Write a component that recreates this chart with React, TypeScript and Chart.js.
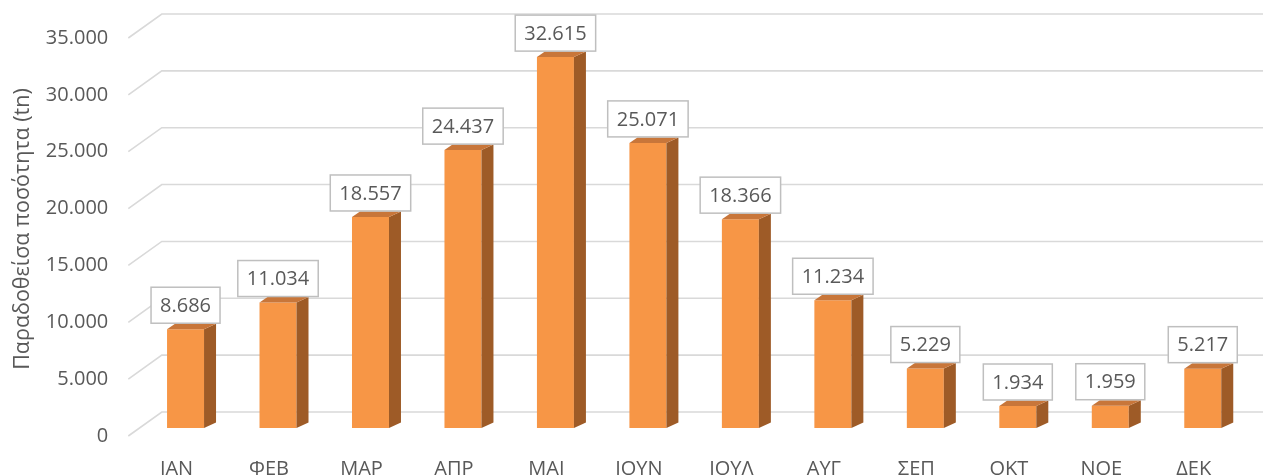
import React, { useEffect, useRef } from "react";
import { Chart, registerables } from "chart.js";

Chart.register(...registerables);

const months = ["ΙΑΝ", "ΦΕΒ", "ΜΑΡ", "ΑΠΡ", "ΜΑΙ", "ΙΟΥΝ", "ΙΟΥΛ", "ΑΥΓ", "ΣΕΠ", "ΟΚΤ", "ΝΟΕ", "ΔΕΚ"];
const quantities = [8686, 11034, 18557, 24437, 32615, 25071, 18366, 11234, 5229, 1934, 1959, 5217];
const yMin = 0;
const yMax = 35000;
const yStep = 5000;
const yTitle = "Παραδοθείσα ποσότητα (tn)";

const FONT = "'Open Sans', 'Noto Sans', sans-serif";
const FSIZE = 20;
const TEXT = "#595959";
const GRID = "#d9d9d9";
const FRONT = "#F79646";
const TOP = "#C8763A";
const SIDE = "#9E5B27";

const fmt = (v: number) => String(Math.round(v)).replace(/\B(?=(\d{3})+(?!\d))/g, ".");

const threeD = {
  id: "threeD",
  beforeDatasetsDraw(chart: any) {
    const ctx = chart.ctx;
    const ys = chart.scales.y;
    const left = chart.chartArea.left;
    ctx.save();
    ctx.strokeStyle = GRID;
    ctx.lineWidth = 1.6;
    ys.ticks.forEach((t: any) => {
      const yb = ys.getPixelForValue(t.value);
      ctx.beginPath();
      ctx.moveTo(left - 11, yb + 8);
      ctx.lineTo(left + 22.5, yb - 16);
      ctx.lineTo(chart.width, yb - 16);
      ctx.stroke();
    });
    ctx.restore();
  },
  afterDatasetsDraw(chart: any) {
    const ctx = chart.ctx;
    const meta = chart.getDatasetMeta(0);
    const dx = 12;
    const dxl = 8;
    const dy = 5.5;
    ctx.save();
    meta.data.forEach((bar: any) => {
      const { x, y, base, width } = bar.getProps(["x", "y", "base", "width"], true);
      const xl = x - width / 2;
      const xr = x + width / 2;
      ctx.fillStyle = SIDE;
      ctx.beginPath();
      ctx.moveTo(xr, y);
      ctx.lineTo(xr + dx, y - dy);
      ctx.lineTo(xr + dx, base - dy);
      ctx.lineTo(xr, base);
      ctx.closePath();
      ctx.fill();
      ctx.fillStyle = TOP;
      ctx.beginPath();
      ctx.moveTo(xl, y);
      ctx.lineTo(xr, y);
      ctx.lineTo(xr + dx, y - dy);
      ctx.lineTo(xl + dxl, y - dy);
      ctx.closePath();
      ctx.fill();
    });
    ctx.font = `${FSIZE}px ${FONT}`;
    ctx.textAlign = "center";
    ctx.textBaseline = "middle";
    meta.data.forEach((bar: any, i: number) => {
      const { x, y } = bar.getProps(["x", "y"], true);
      const label = fmt(quantities[i]);
      const w = ctx.measureText(label).width + 18;
      const h = 36;
      const bottom = y - 6;
      const top = bottom - h;
      ctx.fillStyle = "#ffffff";
      ctx.fillRect(x - w / 2, top, w, h);
      ctx.strokeStyle = "#bfbfbf";
      ctx.lineWidth = 1.5;
      ctx.strokeRect(x - w / 2, top, w, h);
      ctx.fillStyle = TEXT;
      ctx.fillText(label, x, top + h / 2 + 1);
    });
    ctx.restore();
  },
};

export default function App() {
  const ref = useRef<HTMLCanvasElement>(null);
  useEffect(() => {
    if (!ref.current) return;
    const chart = new Chart(ref.current, {
      type: "bar",
      data: {
        labels: months,
        datasets: [
          {
            data: quantities,
            backgroundColor: FRONT,
            borderWidth: 0,
            barPercentage: 0.4,
            categoryPercentage: 1,
          },
        ],
      },
      options: {
        animation: false,
        responsive: true,
        maintainAspectRatio: false,
        layout: { padding: { top: 30, right: 14, left: 0, bottom: 0 } },
        plugins: { legend: { display: false }, tooltip: { enabled: false } },
        scales: {
          x: {
            grid: { display: false, drawTicks: false },
            border: { display: false },
            ticks: {
              color: TEXT,
              font: { family: FONT, size: FSIZE },
              padding: 29,
              labelOffset: -9,
              maxRotation: 0,
            },
            afterFit: (s: any) => {
              s.height = 48;
              s.paddingLeft = 0;
              s.paddingRight = 0;
            },
          },
          y: {
            min: yMin,
            max: yMax,
            grid: { display: false, drawTicks: false },
            border: { display: false },
            ticks: {
              stepSize: yStep,
              color: TEXT,
              font: { family: FONT, size: FSIZE },
              padding: 31,
              labelOffset: 8,
              callback: (v: any) => fmt(Number(v)),
            },
            title: {
              display: true,
              text: yTitle,
              color: TEXT,
              font: { family: FONT, size: 21.5 },
              padding: { top: 10, bottom: 0 },
            },
            afterFit: (s: any) => {
              s.width = 139.3;
              s.paddingTop = 0;
              s.paddingBottom = 0;
            },
          },
        },
      },
      plugins: [threeD],
    });
    return () => chart.destroy();
  }, []);
  return (
    <div style={{ position: "absolute", left: 0, top: 0, width: 1263, height: 476, background: "#fff" }}>
      <canvas ref={ref} />
    </div>
  );
}
